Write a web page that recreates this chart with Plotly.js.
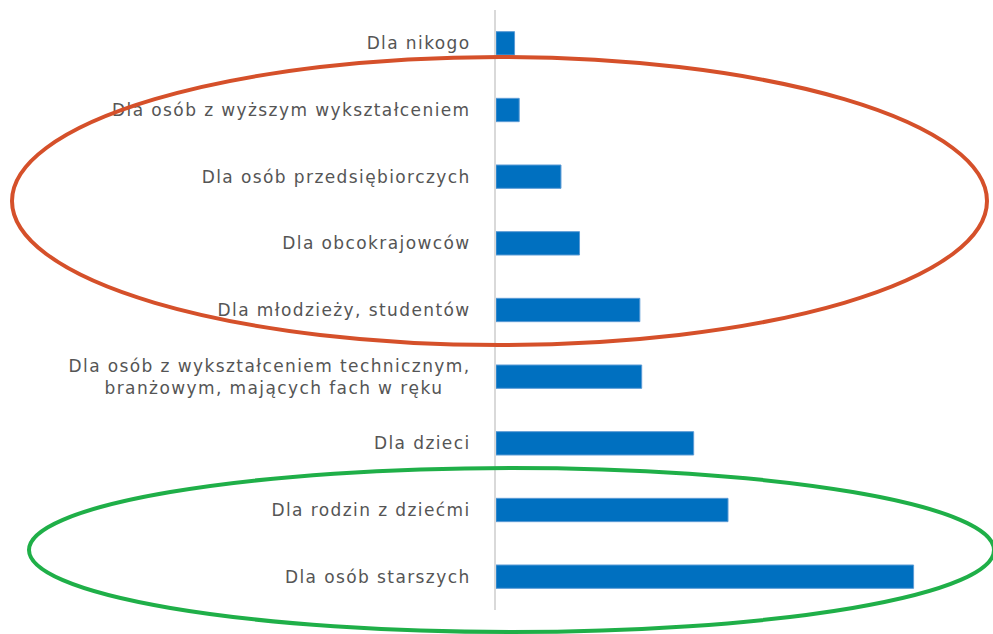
<!DOCTYPE html>
<html>
<head>
<meta charset="utf-8">
<script src="https://cdn.plot.ly/plotly-3.0.1.min.js"></script>
<style>
html,body{margin:0;padding:0;background:#fff;}
#chart{width:993px;height:634px;}
#chart .ytick text{letter-spacing:1.4px;}
</style>
</head>
<body>
<div id="chart"></div>
<script>
const categories = [
  "Dla nikogo",
  "Dla osób z wyższym wykształceniem",
  "Dla osób przedsiębiorczych",
  "Dla obcokrajowców",
  "Dla młodzieży, studentów",
  "Dla osób z wykształceniem technicznym,<br>branżowym, mających fach w ręku\u00a0\u00a0\u00a0\u00a0",
  "Dla dzieci",
  "Dla rodzin z dziećmi",
  "Dla osób starszych"
];
const values = [2.0, 2.5, 7.0, 9.0, 15.5, 15.7, 21.3, 25.0, 45.0];

const W = 993, H = 634;
const L = 496, R = 960, T = 10, B = 610;
function px(x){ return (x - L) / (R - L); }
function py(y){ return (B - y) / (B - T); }

const trace = {
  type: 'bar',
  orientation: 'h',
  y: categories,
  x: values,
  marker: {color: '#0070C0', line: {color: '#5B9BD5', width: 1}},
  hoverinfo: 'none'
};

const layout = {
  width: W, height: H,
  margin: {l: L, r: W - R, t: T, b: H - B, pad: 0},
  paper_bgcolor: '#ffffff',
  plot_bgcolor: '#ffffff',
  showlegend: false,
  bargap: 0.65,
  font: {family: 'DejaVu Sans, Verdana, sans-serif', color: '#555555', size: 17},
  xaxis: {range: [0, 50], visible: false, fixedrange: true},
  yaxis: {
    autorange: 'reversed',
    showline: true, linecolor: '#D9D9D9', linewidth: 2,
    showgrid: false, zeroline: false, ticks: '',
    ticklabelstandoff: 20,
    tickfont: {family: 'DejaVu Sans, Verdana, sans-serif', size: 17, color: '#555555'},
    fixedrange: true
  },
  shapes: [
    {type: 'circle', xref: 'paper', yref: 'paper',
     x0: px(12), x1: px(987), y0: py(345), y1: py(57),
     line: {color: '#D5502A', width: 4}},
    {type: 'circle', xref: 'paper', yref: 'paper',
     x0: px(29), x1: px(994), y0: py(632), y1: py(468),
     line: {color: '#1FAF48', width: 4}}
  ]
};

Plotly.newPlot('chart', [trace], layout, {displayModeBar: false, staticPlot: true});
</script>
</body>
</html>
